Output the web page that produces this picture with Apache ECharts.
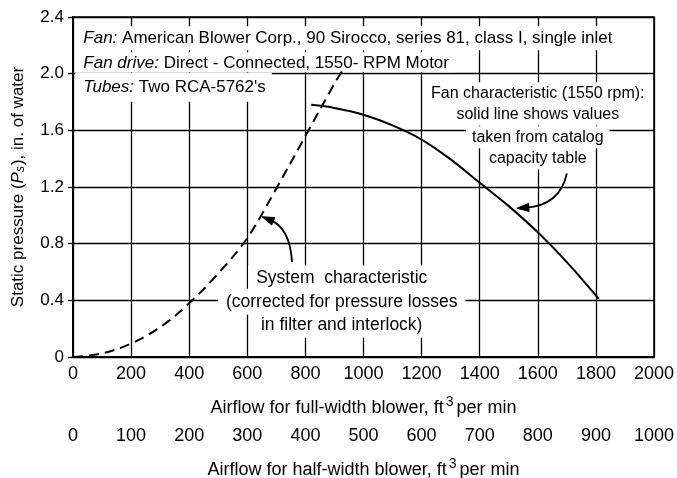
<!DOCTYPE html>
<html>
<head>
<meta charset="utf-8">
<script src="https://cdn.jsdelivr.net/npm/echarts@6/dist/echarts.min.js"></script>
<style>
  html, body { margin: 0; padding: 0; background: #fff; }
  #chart { width: 677px; height: 478px; }
</style>
</head>
<body>
<div id="chart"></div>
<script>
// airflow, ft3/min (full-width blower) vs static pressure, in. of water
var fullWidthTicks = [0, 200, 400, 600, 800, 1000, 1200, 1400, 1600, 1800, 2000];
var halfWidthTicks = [0, 100, 200, 300, 400, 500, 600, 700, 800, 900, 1000];
var pressureTicks = [0, 0.4, 0.8, 1.2, 1.6, 2.0, 2.4];

var systemFlow = [0, 100, 200, 300, 400, 500, 600, 700, 800, 900, 930];
var systemPressure = [0, 0.025, 0.095, 0.21, 0.38, 0.59, 0.84, 1.19, 1.56, 1.93, 2.03];

var fanFlow = [820, 900, 1000, 1100, 1200, 1300, 1400, 1500, 1600, 1700, 1810];
var fanPressure = [1.78, 1.758, 1.71, 1.635, 1.535, 1.395, 1.23, 1.065, 0.88, 0.67, 0.41];

var headerLines = [
  ['Fan:', ' American Blower Corp., 90 Sirocco, series 81, class I, single inlet'],
  ['Fan drive:', ' Direct - Connected, 1550- RPM Motor'],
  ['Tubes:', ' Two RCA-5762\'s']
];
var fanNote = ['Fan characteristic (1550 rpm):', 'solid line shows values', 'taken from catalog', 'capacity table'];
var systemNote = ['System  characteristic', '(corrected for pressure losses', 'in filter and interlock)'];

var font = 'Liberation Sans, Arial, sans-serif';

function pairs(xs, ys) {
  return xs.map(function (x, i) { return [x, ys[i]]; });
}

function plain(v) { return String(v); }

var nameRich = {
  n: {fontSize: 18, color: '#000', fontFamily: font},
  sup: {fontSize: 14, color: '#000', fontFamily: font, padding: [0, 3, 12, 2]}
};

var chart = echarts.init(document.getElementById('chart'));

var option = {
  animation: false,
  backgroundColor: '#fff',
  grid: {
    left: 73, right: 23, top: 17, bottom: 121,
    containLabel: false, outerBoundsMode: 'none',
    show: true, borderColor: '#000', borderWidth: 1.5
  },
  xAxis: [{
    type: 'value',
    min: fullWidthTicks[0],
    max: fullWidthTicks[fullWidthTicks.length - 1],
    interval: fullWidthTicks[1] - fullWidthTicks[0],
    position: 'bottom',
    axisLine: {show: true, onZero: false, lineStyle: {color: '#000', width: 2}},
    axisTick: {show: false},
    axisLabel: {color: '#000', fontSize: 18, margin: 8, fontFamily: font, formatter: plain},
    splitLine: {show: true, lineStyle: {color: '#000', width: 1.3}},
    name: '{n|Airflow for full-width blower, ft}{sup|3}{n|per min}',
    nameLocation: 'middle',
    nameGap: 38,
    nameTextStyle: {rich: nameRich}
  }, {
    type: 'value',
    min: halfWidthTicks[0],
    max: halfWidthTicks[halfWidthTicks.length - 1],
    interval: halfWidthTicks[1] - halfWidthTicks[0],
    position: 'bottom',
    offset: 63,
    axisLine: {show: false},
    axisTick: {show: false},
    splitLine: {show: false},
    axisLabel: {color: '#000', fontSize: 18, margin: 7, fontFamily: font, formatter: plain},
    name: '{n|Airflow for half-width blower, ft}{sup|3}{n|per min}',
    nameLocation: 'middle',
    nameGap: 37,
    nameTextStyle: {rich: nameRich}
  }],
  yAxis: {
    type: 'value',
    min: pressureTicks[0],
    max: pressureTicks[pressureTicks.length - 1],
    interval: 0.4,
    axisLine: {show: true, lineStyle: {color: '#000', width: 2}},
    axisTick: {show: true, inside: false, length: 5, lineStyle: {color: '#000', width: 1.3}},
    axisLabel: {
      color: '#000', fontSize: 17, margin: 9, fontFamily: font,
      formatter: function (v) { return v === 0 ? '0' : v.toFixed(1); }
    },
    splitLine: {show: true, lineStyle: {color: '#000', width: 1.3}},
    name: '{n|Static pressure (}{i|P}{s|s}{n|), in. of water}',
    nameLocation: 'middle',
    nameGap: 46,
    nameTextStyle: {
      rich: {
        n: {fontSize: 17, color: '#000', fontFamily: font},
        i: {fontSize: 17, color: '#000', fontFamily: font, fontStyle: 'italic'},
        s: {fontSize: 12, color: '#000', fontFamily: font, fontStyle: 'italic', padding: [6, 1, 0, 0]}
      }
    }
  },
  series: [{
    name: 'System characteristic',
    type: 'line',
    data: pairs(systemFlow, systemPressure),
    smooth: 0.35,
    symbol: 'none',
    z: 2,
    lineStyle: {color: '#000', width: 2, type: [10, 6]}
  }, {
    name: 'Fan characteristic',
    type: 'line',
    data: pairs(fanFlow, fanPressure),
    smooth: 0.35,
    symbol: 'none',
    z: 2,
    lineStyle: {color: '#000', width: 2}
  }]
};
chart.setOption(option);

// annotations, placed in data units and converted to pixels
function px(x, y) { return chart.convertToPixel({gridIndex: 0}, [x, y]); }

function noteLine(text, at, align, pad, size) {
  return {
    type: 'text', x: at[0], y: at[1], z: 1,
    style: {
      text: text, fill: '#000', fontSize: size, fontFamily: font,
      align: align, verticalAlign: 'middle',
      backgroundColor: '#fff', padding: pad
    }
  };
}

function arrow(from, ctrl, tip) {
  var a = px(from[0], from[1]), c = px(ctrl[0], ctrl[1]), t = px(tip[0], tip[1]);
  var dx = t[0] - c[0], dy = t[1] - c[1], len = Math.sqrt(dx * dx + dy * dy);
  dx /= len; dy /= len;
  var L = 12, W = 4;
  var bx = t[0] - dx * L, by = t[1] - dy * L;
  return [{
    type: 'bezierCurve', z: 3,
    shape: {x1: a[0], y1: a[1], x2: bx + dx * 3, y2: by + dy * 3, cpx1: c[0], cpy1: c[1]},
    style: {stroke: '#000', lineWidth: 1.8, fill: null}
  }, {
    type: 'polygon', z: 3,
    shape: {points: [t, [bx - dy * W, by + dx * W], [bx + dy * W, by - dx * W]]},
    style: {fill: '#000', stroke: '#000', lineWidth: 1}
  }];
}

var graphics = [];
var headerY = [2.25, 2.08, 1.905];
var headerPad = [[4, 6, 3, 8], [2, 6, 1, 8], [6, 6, 6, 8]];
headerLines.forEach(function (ln, i) {
  var p = px(8, headerY[i]);
  var g = noteLine('{i|' + ln[0] + '}{n|' + ln[1] + '}', p, 'left', headerPad[i], 17);
  g.style.rich = {
    i: {fontSize: 17, fontFamily: font, fontStyle: 'italic', fill: '#000'},
    n: {fontSize: 17, fontFamily: font, fill: '#000'}
  };
  graphics.push(g);
});

var fanY = [1.862, 1.712, 1.552, 1.402];
fanNote.forEach(function (t, i) {
  graphics.push(noteLine(t, px(1600, fanY[i]), 'center', [3, 6], 16));
});

var sysY = [0.555, 0.39, 0.228];
systemNote.forEach(function (t, i) {
  graphics.push(noteLine(t, px(925, sysY[i]), 'center', [4, 8], 17.5));
});

graphics = graphics.concat(arrow([754, 0.67], [747, 0.91], [651, 0.99]));
graphics = graphics.concat(arrow([1700, 1.295], [1676, 1.07], [1528, 1.05]));

chart.setOption({graphic: graphics});
</script>
</body>
</html>
